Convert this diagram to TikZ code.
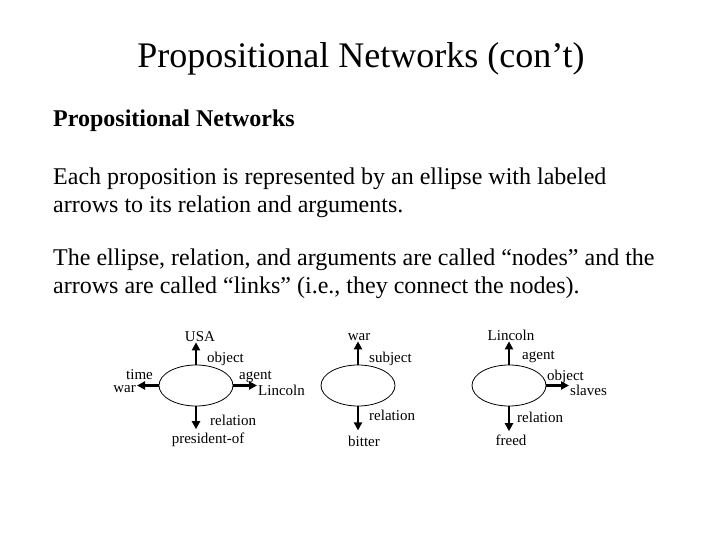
\documentclass[tikz,border=0pt]{standalone}
\usepackage{fontspec}
\setmainfont{Liberation Serif}
\usetikzlibrary{arrows.meta,positioning,shapes.geometric}

\begin{document}
\begin{tikzpicture}[x=1pt,y=-1pt,>={Triangle[length=8pt,width=8pt]},
 txt/.style={anchor=base west,inner sep=0pt,font=\fontsize{24}{30}\selectfont},
 lbl/.style={anchor=base west,inner sep=0pt,font=\fontsize{15}{18}\selectfont},
 prop/.style={draw,ellipse,line width=0.8pt,minimum width=74pt,minimum height=41pt,inner sep=0pt},
 link/.style={->,line width=2.4pt,shorten >=1pt}]
 \useasboundingbox (0,0) rectangle (720,540);
 \node[anchor=base,inner sep=0pt,font=\fontsize{36}{42}\selectfont] (title) at (361,68) {Propositional Networks (con’t)};
 \node[txt,font=\fontsize{24}{30}\selectfont\bfseries] (head) at (53,127) {Propositional Networks};
 \node[txt] (par1a) at (53,185) {Each proposition is represented by an ellipse with labeled};
 \node[txt] (par1b) at (53,213) {arrows to its relation and arguments.};
 \node[txt] (par2a) at (53,265) {The ellipse, relation, and arguments are called “nodes” and the};
 \node[txt] (par2b) at (53,293) {arrows are called “links” (i.e., they connect the nodes).};

 % president-of
 \node[prop] (p1) at (196,385.5) {};
 \node[lbl,anchor=base] (usa) at (200,341) {USA};
 \node[lbl] (obj1) at (207,362) {object};
 \node[lbl] (agt1) at (239,379) {agent};
 \node[lbl] (linc1) at (258,395) {Lincoln};
 \node[lbl] (time1) at (126,379) {time};
 \node[lbl,anchor=base east] (war1) at (136,392) {war};
 \node[lbl] (rel1) at (210,425) {relation};
 \node[lbl,anchor=base] (pres) at (208,443) {president-of};
 \draw[link] (p1.north) -- (p1.north |- usa.south);
 \draw[link] (p1.east) -- (p1.east -| linc1.west);
 \draw[link] (p1.west) -- (p1.west -| war1.east);
 \draw[link,shorten >=3pt] (p1.south) -- (p1.south |- pres.north);

 % bitter
 \node[prop] (p2) at (358,385.5) {};
 \node[lbl,anchor=base] (war2) at (359,340) {war};
 \node[lbl] (subj2) at (369,362) {subject};
 \node[lbl] (rel2) at (369,420) {relation};
 \node[lbl,anchor=base] (bitter) at (364,446) {bitter};
 \draw[link] (p2.north) -- (p2.north |- war2.south);
 \draw[link,shorten >=5pt] (p2.south) -- (p2.south |- bitter.north);

 % freed
 \node[prop] (p3) at (509,385.5) {};
 \node[lbl,anchor=base] (linc3) at (511,340) {Lincoln};
 \node[lbl] (agt3) at (522,359) {agent};
 \node[lbl] (obj3) at (547,380) {object};
 \node[lbl] (slaves) at (570,395) {slaves};
 \node[lbl] (rel3) at (517,422) {relation};
 \node[lbl,anchor=base] (freed) at (511,445) {freed};
 \draw[link] (p3.north) -- (p3.north |- linc3.south);
 \draw[link] (p3.east) -- (p3.east -| slaves.west);
 \draw[link,shorten >=3pt] (p3.south) -- (p3.south |- freed.north);
\end{tikzpicture}
\end{document}
